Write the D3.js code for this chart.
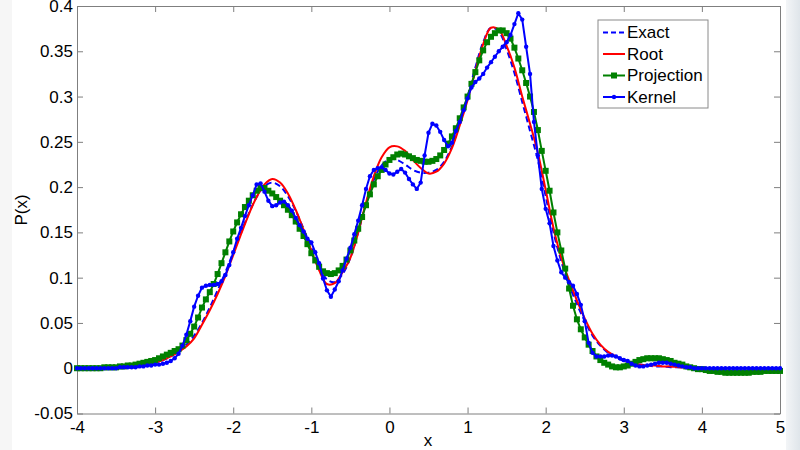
<!DOCTYPE html>
<html>
<head>
<meta charset="utf-8">
<script src="https://cdn.jsdelivr.net/npm/d3@7"></script>
<style>
  body { margin: 0; background: #fff; }
  svg { display: block; font-family: "Liberation Sans", Arial, Helvetica, sans-serif; }
</style>
</head>
<body>
<script>
// x grids: Exact/Root sampled every 0.1, Projection/Kernel every 0.05 (from -4 to 5)
const coarseStart = -4, coarseStep = 0.1, coarseN = 91;
const fineStart = -4, fineStep = 0.05, fineN = 181;

const exactVals = [
  0, 0, 0, 0, 0, 0.001, 0.001, 0.002, 0.003, 0.004,
  0.006, 0.009, 0.013, 0.019, 0.026, 0.036, 0.050, 0.067, 0.086, 0.106,
  0.128, 0.150, 0.171, 0.189, 0.201, 0.205, 0.201, 0.190, 0.174, 0.154,
  0.133, 0.113, 0.098, 0.095, 0.104, 0.122, 0.150, 0.182, 0.208, 0.224,
  0.231, 0.230, 0.225, 0.219, 0.216, 0.216, 0.219, 0.228, 0.245, 0.270,
  0.300, 0.332, 0.360, 0.376, 0.372, 0.352, 0.326, 0.294, 0.262, 0.230,
  0.190, 0.150, 0.118, 0.092, 0.071, 0.052, 0.036, 0.025, 0.017, 0.012,
  0.008, 0.005, 0.004, 0.003, 0.002, 0.002, 0.001, 0.001, 0.001, 0,
  0, 0, 0, 0, 0, 0, 0, 0, 0, 0,
  0
];

const rootVals = [
  0, 0, 0, 0, 0, 0.001, 0.001, 0.002, 0.003, 0.004,
  0.006, 0.009, 0.013, 0.018, 0.024, 0.033, 0.048, 0.064, 0.082, 0.102,
  0.125, 0.148, 0.170, 0.189, 0.203, 0.209, 0.205, 0.193, 0.175, 0.153,
  0.130, 0.108, 0.093, 0.094, 0.106, 0.122, 0.150, 0.183, 0.212, 0.233,
  0.244, 0.245, 0.240, 0.230, 0.221, 0.215, 0.217, 0.226, 0.243, 0.268,
  0.296, 0.328, 0.358, 0.376, 0.374, 0.356, 0.332, 0.300, 0.270, 0.238,
  0.197, 0.155, 0.122, 0.097, 0.075, 0.055, 0.038, 0.026, 0.018, 0.013,
  0.009, 0.006, 0.004, 0.003, 0.003, 0.002, 0.002, 0.001, 0.001, 0.001,
  0, 0, 0, 0, 0, 0, 0, 0, 0, 0,
  0
];

const projectionVals = [
  0, 0, 0, 0, 0, 0, 0, 0.001, 0.001, 0.001,
  0.001, 0.002, 0.002, 0.003, 0.003, 0.004, 0.005, 0.006, 0.007, 0.008,
  0.009, 0.011, 0.013, 0.015, 0.017, 0.019, 0.021, 0.025, 0.031, 0.038,
  0.046, 0.056, 0.067, 0.076, 0.084, 0.093, 0.104, 0.116, 0.128, 0.140,
  0.151, 0.161, 0.170, 0.178, 0.185, 0.191, 0.196, 0.199, 0.199, 0.196,
  0.193, 0.189, 0.185, 0.180, 0.175, 0.169, 0.162, 0.154, 0.146, 0.137,
  0.127, 0.119, 0.112, 0.107, 0.105, 0.104, 0.105, 0.108, 0.113, 0.120,
  0.130, 0.141, 0.154, 0.167, 0.180, 0.192, 0.203, 0.212, 0.219, 0.225,
  0.230, 0.233, 0.236, 0.237, 0.236, 0.234, 0.232, 0.230, 0.229, 0.228,
  0.228, 0.229, 0.231, 0.235, 0.241, 0.248, 0.256, 0.265, 0.276, 0.288,
  0.300, 0.314, 0.327, 0.340, 0.351, 0.360, 0.366, 0.370, 0.373, 0.373,
  0.370, 0.364, 0.354, 0.342, 0.329, 0.315, 0.300, 0.283, 0.263, 0.240,
  0.218, 0.196, 0.172, 0.150, 0.130, 0.110, 0.088, 0.069, 0.054, 0.043,
  0.034, 0.026, 0.019, 0.013, 0.009, 0.006, 0.004, 0.002, 0.001, 0.001,
  0.002, 0.003, 0.005, 0.007, 0.009, 0.010, 0.011, 0.011, 0.011, 0.011,
  0.010, 0.009, 0.008, 0.006, 0.005, 0.004, 0.002, 0.001, 0.000, -0.001,
  -0.001, -0.002, -0.003, -0.003, -0.004, -0.004, -0.005, -0.005, -0.005, -0.005,
  -0.005, -0.005, -0.005, -0.004, -0.004, -0.004, -0.003, -0.003, -0.003, -0.003,
  -0.003
];

const kernelVals = [
  0, 0, 0, 0, 0, 0, 0, 0, 0, 0,
  0, 0.001, 0.001, 0.001, 0.001, 0.001, 0.002, 0.002, 0.003, 0.003,
  0.004, 0.004, 0.005, 0.006, 0.008, 0.011, 0.016, 0.025, 0.037, 0.052,
  0.068, 0.080, 0.089, 0.091, 0.092, 0.092, 0.093, 0.096, 0.103, 0.114,
  0.128, 0.143, 0.155, 0.168, 0.180, 0.191, 0.203, 0.204, 0.195, 0.185,
  0.179, 0.180, 0.183, 0.184, 0.180, 0.174, 0.166, 0.158, 0.151, 0.143,
  0.139, 0.128, 0.116, 0.099, 0.086, 0.079, 0.087, 0.096, 0.108, 0.121,
  0.133, 0.148, 0.163, 0.180, 0.198, 0.212, 0.219, 0.221, 0.222, 0.219,
  0.215, 0.214, 0.217, 0.220, 0.216, 0.209, 0.203, 0.198, 0.205, 0.235,
  0.260, 0.270, 0.268, 0.261, 0.252, 0.245, 0.249, 0.262, 0.272, 0.285,
  0.298, 0.310, 0.316, 0.320, 0.325, 0.332, 0.338, 0.344, 0.350, 0.355,
  0.360, 0.368, 0.380, 0.392, 0.385, 0.355, 0.325, 0.272, 0.235, 0.198,
  0.176, 0.160, 0.135, 0.119, 0.106, 0.100, 0.095, 0.091, 0.082, 0.070,
  0.052, 0.028, 0.017, 0.013, 0.013, 0.013, 0.014, 0.014, 0.013, 0.011,
  0.009, 0.008, 0.005, 0.003, 0.002, 0.002, 0.003, 0.004, 0.005, 0.006,
  0.006, 0.006, 0.005, 0.004, 0.003, 0.002, 0.001, 0.001, 0, 0,
  0, 0, 0, 0, 0, 0, 0, 0, 0, 0,
  0, 0, 0, 0, 0, 0, 0, 0, 0, 0,
  0
];

const xTicks = [-4, -3, -2, -1, 0, 1, 2, 3, 4, 5];
const yTicks = [-0.05, 0, 0.05, 0.1, 0.15, 0.2, 0.25, 0.3, 0.35, 0.4];
const legendNames = ["Exact", "Root", "Projection", "Kernel"];

const width = 800, height = 450;
const plotLeft = 77, plotRight = 780, plotTop = 6, plotBottom = 413.5;

const coarseX = d3.range(coarseN).map(i => +(coarseStart + i * coarseStep).toFixed(2));
const fineX = d3.range(fineN).map(i => +(fineStart + i * fineStep).toFixed(2));

const exact = coarseX.map((x, i) => ({ x: x, y: exactVals[i] }));
const root = coarseX.map((x, i) => ({ x: x, y: rootVals[i] }));
const projection = fineX.map((x, i) => ({ x: x, y: projectionVals[i] }));
const kernel = fineX.map((x, i) => ({ x: x, y: kernelVals[i] }));

const svg = d3.select("body").append("svg")
    .attr("width", width)
    .attr("height", height);

// faint grey edges of the screenshot
const defs = svg.append("defs");
const grad = defs.append("linearGradient").attr("id", "edge").attr("x1", 0).attr("x2", 1);
grad.append("stop").attr("offset", "0%").attr("stop-color", "#f3f5f7");
grad.append("stop").attr("offset", "100%").attr("stop-color", "#dfe5ea");
svg.append("rect").attr("x", 786).attr("y", 0).attr("width", 14).attr("height", height).attr("fill", "url(#edge)");
svg.append("rect").attr("x", 0).attr("y", 0).attr("width", 12).attr("height", height).attr("fill", "#f6f6f6");

var x = d3.scaleLinear().domain([-4, 5]).range([plotLeft, plotRight]);
var y = d3.scaleLinear().domain([-0.05, 0.4]).range([plotBottom, plotTop]);

const fmt = d => String(+d.toFixed(2));

// axes (box with inward ticks on all sides)
svg.append("g")
    .attr("class", "axis")
    .attr("transform", `translate(0,${plotBottom})`)
    .call(d3.axisBottom(x).tickValues(xTicks).tickFormat(fmt).tickSizeInner(-6).tickSizeOuter(0).tickPadding(7));
svg.append("g")
    .attr("class", "axis")
    .attr("transform", `translate(${plotLeft},0)`)
    .call(d3.axisLeft(y).tickValues(yTicks).tickFormat(fmt).tickSizeInner(-6).tickSizeOuter(0).tickPadding(4));
svg.append("g")
    .attr("class", "axis noLabel")
    .attr("transform", `translate(0,${plotTop})`)
    .call(d3.axisTop(x).tickValues(xTicks).tickFormat("").tickSizeInner(-6).tickSizeOuter(0));
svg.append("g")
    .attr("class", "axis noLabel")
    .attr("transform", `translate(${plotRight},0)`)
    .call(d3.axisRight(y).tickValues(yTicks).tickFormat("").tickSizeInner(-6).tickSizeOuter(0));

svg.selectAll(".axis path, .axis line").attr("stroke", "#7f7f7f").attr("stroke-width", 1);
svg.selectAll(".axis text")
    .attr("fill", "#000")
    .style("font-size", "17px")
    .style("font-family", "'Liberation Sans', Arial, sans-serif");

// axis titles
svg.append("text")
    .attr("x", 428).attr("y", 446)
    .attr("text-anchor", "middle")
    .style("font-size", "17px")
    .text("x");
svg.append("text")
    .attr("transform", "translate(27,210) rotate(-90)")
    .attr("text-anchor", "middle")
    .style("font-size", "17px")
    .text("P(x)");

// lines
const line = d3.line()
    .x(d => x(d.x))
    .y(d => y(d.y));
const smooth = d3.line()
    .x(d => x(d.x))
    .y(d => y(d.y))
    .curve(d3.curveCatmullRom);

svg.append("path").datum(exact)
    .attr("d", smooth).attr("fill", "none")
    .attr("stroke", "#0000ff").attr("stroke-width", 2).attr("stroke-dasharray", "6,3.5");

svg.append("path").datum(root)
    .attr("d", smooth).attr("fill", "none")
    .attr("stroke", "#ff0000").attr("stroke-width", 2);

svg.append("path").datum(projection)
    .attr("d", line).attr("fill", "none")
    .attr("stroke", "#008000").attr("stroke-width", 2);
svg.append("g").selectAll("rect")
    .data(projection)
    .enter()
    .append("rect")
    .attr("x", d => x(d.x) - 3)
    .attr("y", d => y(d.y) - 3)
    .attr("width", 6).attr("height", 6)
    .attr("fill", "#008000");

svg.append("path").datum(kernel)
    .attr("d", line).attr("fill", "none")
    .attr("stroke", "#0000ff").attr("stroke-width", 2);
svg.append("g").selectAll("circle")
    .data(kernel)
    .enter()
    .append("circle")
    .attr("cx", d => x(d.x))
    .attr("cy", d => y(d.y))
    .attr("r", 2.2)
    .attr("fill", "#0000ff");

// legend
const lg = svg.append("g");
lg.append("rect")
    .attr("x", 598).attr("y", 20).attr("width", 110).attr("height", 88)
    .attr("fill", "#fff").attr("stroke", "#8a8a8a").attr("stroke-width", 1);
const legendColors = ["#0000ff", "#ff0000", "#008000", "#0000ff"];
legendNames.forEach((name, i) => {
    const cy = 32.5 + i * 21.5;
    const l = lg.append("line")
        .attr("x1", 603).attr("x2", 625).attr("y1", cy).attr("y2", cy)
        .attr("stroke", legendColors[i]).attr("stroke-width", 2);
    if (i === 0) l.attr("stroke-dasharray", "5,3");
    if (i === 2) lg.append("rect").attr("x", 611).attr("y", cy - 3).attr("width", 6).attr("height", 6).attr("fill", "#008000");
    if (i === 3) lg.append("circle").attr("cx", 614).attr("cy", cy).attr("r", 2.2).attr("fill", "#0000ff");
    lg.append("text")
        .attr("x", 627).attr("y", cy).attr("dy", "0.35em")
        .style("font-size", "17px")
        .text(name);
});
</script>
</body>
</html>
